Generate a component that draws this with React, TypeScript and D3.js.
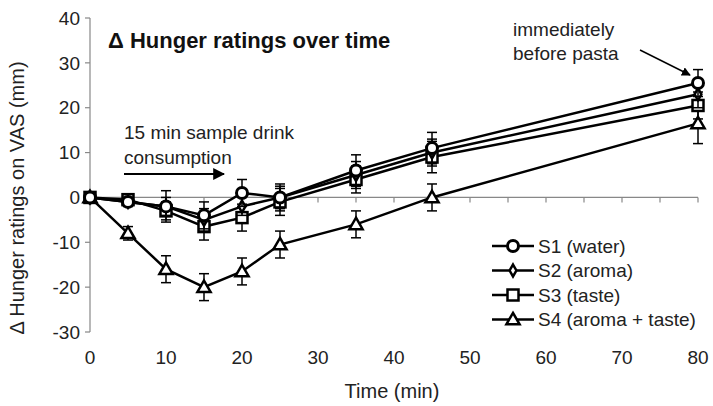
import React, { useEffect, useRef } from 'react';
import * as d3 from 'd3';

// time points (min)
const times = [0, 5, 10, 15, 20, 25, 35, 45, 80];

const s1Values = [0, -1, -2, -4, 1, 0, 6, 11, 25.5];
const s2Values = [0, -1, -2, -5, -2, 0, 5, 10, 23];
const s3Values = [0, -0.5, -3, -6.5, -4.5, -1, 4, 9, 20.5];
const s4Values = [0, -8, -16, -20, -16.5, -10.5, -6, 0, 16.5];

const s1Err = [0, 1, 3.5, 3, 3, 3, 3.5, 3.5, 3];
const s2Err = [0, 1, 2, 2.5, 2, 2.5, 3, 3, 3];
const s3Err = [0, 1, 2, 3, 3, 3, 3, 3.5, 3];
const s4Err = [0, 1.5, 3, 3, 3, 3, 3, 3, 4.5];

const seriesNames = ['S1 (water)', 'S2 (aroma)', 'S3 (taste)', 'S4 (aroma + taste)'];
const seriesShapes = ['circle', 'diamond', 'square', 'triangle'];

const xTicks = [0, 10, 20, 30, 40, 50, 60, 70, 80];
const xMinorTicks = d3.range(0, 81, 5);
const yTicks = [-30, -20, -10, 0, 10, 20, 30, 40];

function App() {
  const ref = useRef<SVGSVGElement>(null);

  useEffect(() => {
    if (!ref.current) return;
    const svg = d3.select(ref.current);
    svg.selectAll('*').remove();

    const x = d3.scaleLinear().domain([0, 80]).range([90, 698]);
    const y = d3.scaleLinear().domain([-30, 40]).range([332, 18]);

    const series = [
      { vals: s1Values, err: s1Err, shape: seriesShapes[0], name: seriesNames[0] },
      { vals: s2Values, err: s2Err, shape: seriesShapes[1], name: seriesNames[1] },
      { vals: s3Values, err: s3Err, shape: seriesShapes[2], name: seriesNames[2] },
      { vals: s4Values, err: s4Err, shape: seriesShapes[3], name: seriesNames[3] },
    ];

    const txt = (sel: any, size: number) =>
      sel.style('font-family', "'Liberation Sans', Arial, sans-serif")
        .style('font-size', size + 'px').attr('fill', '#222');

    // axes
    const g = svg.append('g');
    g.append('line').attr('x1', x(0)).attr('x2', x(0)).attr('y1', y(40)).attr('y2', y(-30))
      .attr('stroke', '#888').attr('stroke-width', 1.2);
    g.append('line').attr('x1', x(0)).attr('x2', x(80)).attr('y1', y(0)).attr('y2', y(0))
      .attr('stroke', '#888').attr('stroke-width', 1.2);

    yTicks.forEach(t => {
      g.append('line').attr('x1', x(0) - 5).attr('x2', x(0)).attr('y1', y(t)).attr('y2', y(t))
        .attr('stroke', '#888').attr('stroke-width', 1.2);
      txt(g.append('text').attr('x', x(0) - 10).attr('y', y(t)).attr('dy', '0.35em')
        .attr('text-anchor', 'end'), 19).text(t);
    });
    xMinorTicks.forEach(t => {
      g.append('line').attr('x1', x(t)).attr('x2', x(t)).attr('y1', y(0)).attr('y2', y(0) + 5)
        .attr('stroke', '#888').attr('stroke-width', 1.2);
    });
    xTicks.forEach(t => {
      txt(g.append('text').attr('x', x(t)).attr('y', 364)
        .attr('text-anchor', 'middle'), 19).text(t);
    });

    txt(g.append('text').attr('x', 392).attr('y', 398).attr('text-anchor', 'middle'), 20)
      .text('Time (min)');
    txt(g.append('text').attr('transform', 'translate(24,198) rotate(-90)')
      .attr('text-anchor', 'middle'), 20).text('Δ Hunger ratings on VAS (mm)');

    // title and annotations
    txt(g.append('text').attr('x', 108).attr('y', 48), 22)
      .style('font-weight', 'bold').attr('fill', '#111').text('Δ Hunger ratings over time');
    txt(g.append('text').attr('x', 124).attr('y', 139), 19).text('15 min sample drink');
    txt(g.append('text').attr('x', 124).attr('y', 164), 19).text('consumption');
    txt(g.append('text').attr('x', 513).attr('y', 36), 19).text('immediately');
    txt(g.append('text').attr('x', 513).attr('y', 60), 19).text('before pasta');

    const defs = svg.append('defs');
    defs.append('marker').attr('id', 'arr').attr('viewBox', '0 0 10 10').attr('refX', 9).attr('refY', 5)
      .attr('markerWidth', 6).attr('markerHeight', 6).attr('orient', 'auto')
      .append('path').attr('d', 'M0,0 L10,5 L0,10 z').attr('fill', '#000');
    g.append('line').attr('x1', 124).attr('y1', 174).attr('x2', 224).attr('y2', 174)
      .attr('stroke', '#000').attr('stroke-width', 2).attr('marker-end', 'url(#arr)');
    g.append('line').attr('x1', 640).attr('y1', 50).attr('x2', 690).attr('y2', 75)
      .attr('stroke', '#000').attr('stroke-width', 1.5).attr('marker-end', 'url(#arr)');

    const line = d3.line<number>().x((_, i) => x(times[i])).y(d => y(d));

    const drawMarker = (sel: any, shape: string, cx: number, cy: number) => {
      if (shape === 'circle') {
        sel.append('circle').attr('cx', cx).attr('cy', cy).attr('r', 5.5)
          .attr('fill', '#fff').attr('stroke', '#000').attr('stroke-width', 3);
      } else if (shape === 'diamond') {
        sel.append('path').attr('d', d3.symbol(d3.symbolDiamond, 40)()!)
          .attr('transform', `translate(${cx},${cy})`)
          .attr('fill', '#fff').attr('stroke', '#000').attr('stroke-width', 2.5);
      } else if (shape === 'square') {
        sel.append('rect').attr('x', cx - 5.5).attr('y', cy - 5.5).attr('width', 11).attr('height', 11)
          .attr('fill', '#fff').attr('stroke', '#000').attr('stroke-width', 2.5);
      } else {
        sel.append('path').attr('d', d3.symbol(d3.symbolTriangle, 75)()!)
          .attr('transform', `translate(${cx},${cy + 1})`)
          .attr('fill', '#fff').attr('stroke', '#000').attr('stroke-width', 2.5);
      }
    };

    const plot = svg.append('g');
    [...series].reverse().forEach(s => {
      const sg = plot.append('g');
      s.vals.forEach((v, i) => {
        const e = s.err[i];
        if (e <= 0) return;
        const cx = x(times[i]);
        sg.append('line').attr('x1', cx).attr('x2', cx).attr('y1', y(v - e)).attr('y2', y(v + e))
          .attr('stroke', '#000').attr('stroke-width', 1.5);
        [v - e, v + e].forEach(c => {
          sg.append('line').attr('x1', cx - 5).attr('x2', cx + 5).attr('y1', y(c)).attr('y2', y(c))
            .attr('stroke', '#000').attr('stroke-width', 1.5);
        });
      });
      sg.append('path').attr('d', line(s.vals)!).attr('fill', 'none')
        .attr('stroke', '#000').attr('stroke-width', 2.5);
      s.vals.forEach((v, i) => drawMarker(sg, s.shape, x(times[i]), y(v)));
    });

    // legend
    const lg = svg.append('g');
    series.forEach((s, i) => {
      const ly = 246 + i * 24.5;
      lg.append('line').attr('x1', 492).attr('x2', 534).attr('y1', ly).attr('y2', ly)
        .attr('stroke', '#000').attr('stroke-width', 2.5);
      drawMarker(lg, s.shape, 513, ly);
      txt(lg.append('text').attr('x', 538).attr('y', ly).attr('dy', '0.35em'), 19).text(s.name);
    });
  }, []);

  return (
    <svg ref={ref} width={713} height={406}
      style={{ position: 'absolute', left: 0, top: 0, background: '#fff' }} />
  );
}

export default App;
